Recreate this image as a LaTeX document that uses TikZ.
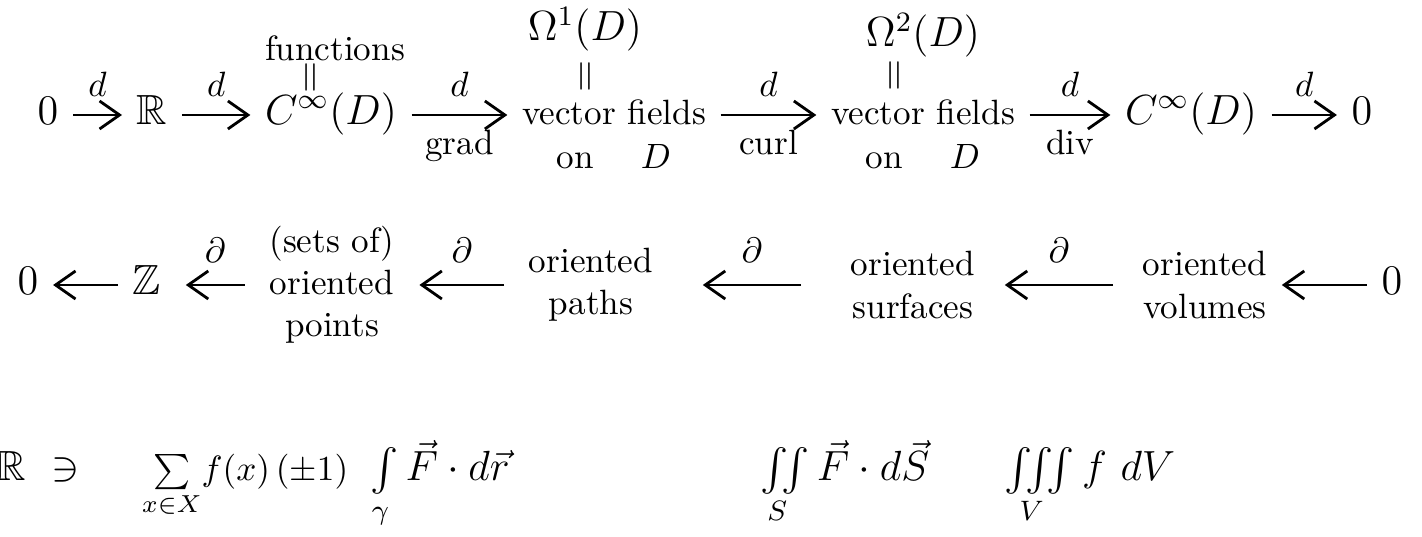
\documentclass[tikz,border=0pt]{standalone}
\usepackage{amsmath,amssymb}
\usetikzlibrary{arrows.meta, positioning}

\begin{document}
\begin{tikzpicture}[
    >={Straight Barb[length=2mm,width=2.8mm]},
    font=\normalsize,
    term/.style={inner sep=4pt, text height=1.8ex, text depth=0.6ex, font=\large},
    word/.style={inner sep=4pt, text height=1.8ex, text depth=0.6ex},
    stack/.style={align=center, inner sep=4pt},
    map/.style={->, thick},
    gap/.style={shorten <=#1, shorten >=#1},
    lbl/.style={inner sep=2pt},
    eqsign/.style={rotate=90, inner sep=0pt, font=\large},
    integral/.style={anchor=base, font=\large},
  ]
  \useasboundingbox (0,0) rectangle (14.22,5.37);

  % --- de Rham complex ---
  \def\toprow{4.22}
  \node[term] (zeroA) at (0.48,\toprow) {$0$};
  \node[term] (reals) at (1.52,\toprow) {$\mathbb{R}$};
  \node[term] (cinfA) at (3.31,\toprow) {$C^{\infty}(D)$};
  \node[word] (vfA)   at (6.14,\toprow) {vector fields};
  \node[word] (vfB)   at (9.23,\toprow) {vector fields};
  \node[term] (cinfB) at (11.91,\toprow) {$C^{\infty}(D)$};
  \node[term] (zeroB) at (13.62,\toprow) {$0$};

  \node[word, below=-6pt of vfA] (onA) {on\quad\ $D$};
  \node[word, below=-6pt of vfB] (onB) {on\quad\ $D$};

  % names written above
  \node (funcs) at (3.35,4.89) {functions};
  \node[eqsign] (eqA) at (3.13,4.60) {$=$};
  \node[font=\large] (omegaA) at (5.85,5.08) {$\Omega^{1}(D)$};
  \node[eqsign] (eqB) at (5.88,4.61) {$=$};
  \node[font=\large] (omegaB) at (9.23,5.02) {$\Omega^{2}(D)$};
  \node[eqsign] (eqC) at (8.97,4.62) {$=$};

  \draw[map] (zeroA) -- node[lbl, above=3pt]{$d$} (reals);
  \draw[map] (reals) -- node[lbl, above=3pt]{$d$} (cinfA);
  \draw[map] (cinfA) -- node[lbl, above=3pt]{$d$} node[lbl, below=2pt]{grad} (vfA);
  \draw[map] (vfA) -- node[lbl, above=3pt]{$d$} node[lbl, below=2pt]{curl} (vfB);
  \draw[map] (vfB) -- node[lbl, above=3pt]{$d$} node[lbl, below=2pt]{div} (cinfB);
  \draw[map] (cinfB) -- node[lbl, above=3pt]{$d$} (zeroB);

  % --- boundary chain ---
  \def\midrow{2.52}
  \node[term] (zeroC) at (0.28,\midrow) {$0$};
  \node[term] (ints)  at (1.47,\midrow) {$\mathbb{Z}$};
  \node[stack] (pts)  at (3.32,\midrow) {(sets of)\\oriented\\points};
  \node[stack] (paths) at (5.91,\midrow) {oriented\\paths};
  \node[stack] (surfs) at (9.13,\midrow) {oriented\\surfaces};
  \node[stack] (vols) at (12.05,\midrow) {oriented\\volumes};
  \node[term] (zeroD) at (13.92,\midrow) {$0$};

  \draw[map] (ints) -- (zeroC);
  \draw[map, gap=0.1cm] (pts) -- node[lbl, above=4pt]{$\partial$} (ints);
  \draw[map, gap=0.1cm] (paths) -- node[lbl, above=4pt]{$\partial$} (pts);
  \draw[map, gap=0.35cm] (surfs) -- node[lbl, above=4pt]{$\partial$} (paths);
  \draw[map, gap=0.15cm] (vols) -- node[lbl, above=4pt]{$\partial$} (surfs);
  \draw[map] (zeroD) -- (vols);

  % --- pairings ---
  \def\lowrow{0.56}
  \node[integral] (pair) at (0.38,\lowrow) {$\mathbb{R}\ \ni$};
  \node[integral, font=\normalsize] (sumpts) at (2.45,\lowrow) {$\sum\limits_{x\in X}\! f(x)\,(\pm1)$};
  \node[integral] (intpath) at (4.40,\lowrow) {$\int\limits_{\gamma}\vec{F}\cdot d\vec{r}$};
  \node[integral] (intsurf) at (8.45,\lowrow) {$\iint\limits_{S}\vec{F}\cdot d\vec{S}$};
  \node[integral] (intvol) at (10.90,\lowrow) {$\iiint\limits_{V} f\ dV$};

\end{tikzpicture}
\end{document}
